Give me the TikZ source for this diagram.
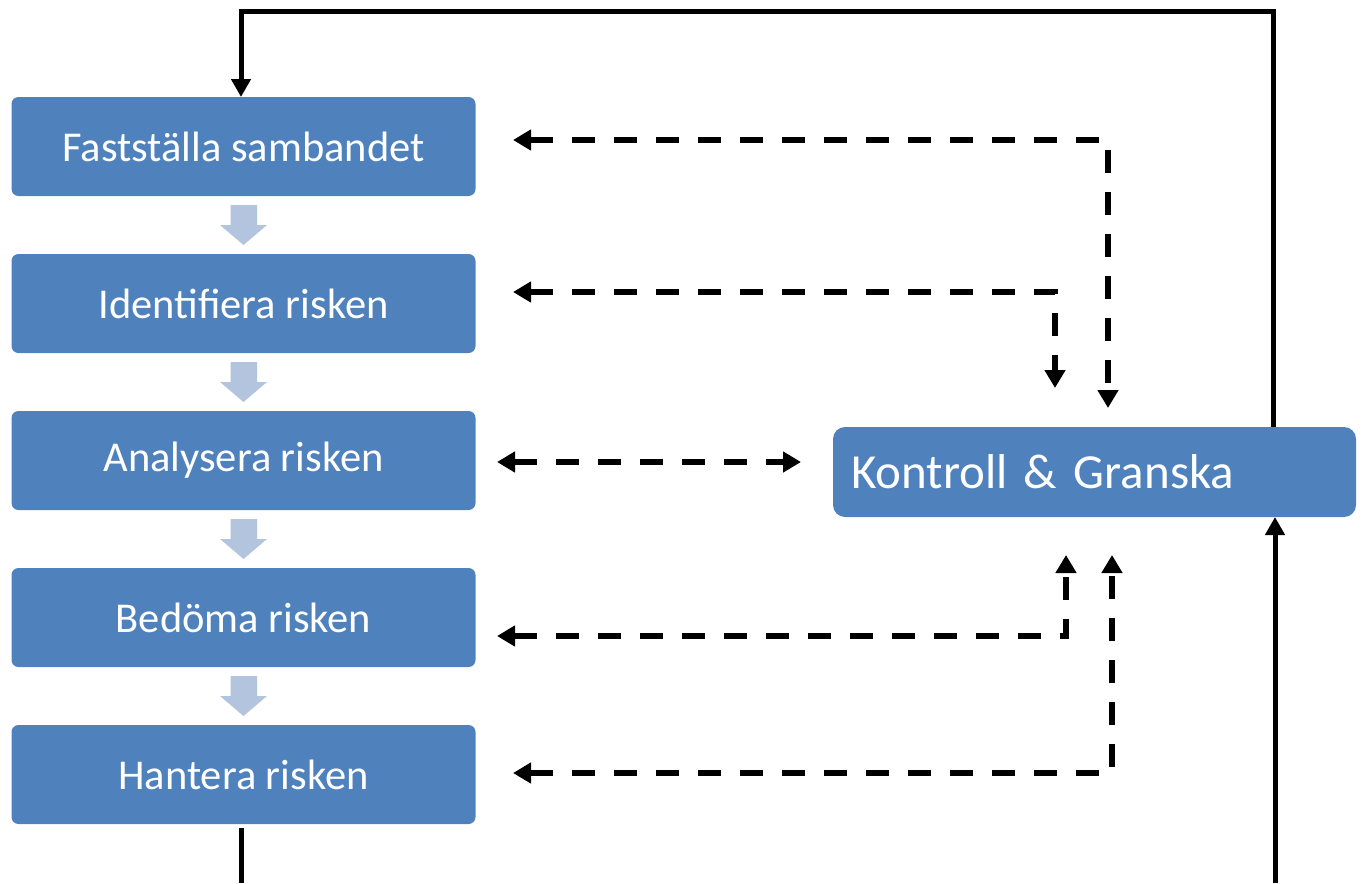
\documentclass[tikz,border=0pt]{standalone}
\usepackage{fontspec}
\setmainfont{Carlito}
\usetikzlibrary{arrows.meta}
\definecolor{boxblue}{HTML}{4F81BD}
\definecolor{arrowblue}{HTML}{B3C4DF}
\begin{document}
\begin{tikzpicture}[x=1pt,y=-1pt,
  stepbox/.style={draw=none,fill=boxblue,rounded corners=7pt,minimum width=464pt,minimum height=99pt,
     text=white,font=\fontsize{42.5}{50}\selectfont,inner sep=0pt},
  ctrlbox/.style={draw=none,fill=boxblue,rounded corners=12pt,minimum width=523pt,minimum height=90pt,
     text=white,font=\fontsize{49}{58}\selectfont,inner xsep=18pt,text width=487pt,align=left},
  solidarrow/.style={line width=5pt,-{Triangle[length=18pt,width=19pt]}},
  solidline/.style={line width=5pt},
  dasharrow/.style={line width=5.5pt,dash pattern=on 23pt off 19pt,{Triangle[length=18pt,width=20pt]}-{Triangle[length=18pt,width=20pt]}},
  blockarrow/.style={fill=arrowblue,draw=none}
]
\useasboundingbox (0,0) rectangle (1364,883);
\node[stepbox] (b1) at (243.5,146.5) {Fastställa sambandet};
\node[stepbox] (b2) at (243.5,303.5) {Identifiera risken};
\node[stepbox] (b3) at (243.5,460.5) {Analysera risken};
\node[stepbox] (b4) at (243.5,617.5) {Bedöma risken};
\node[stepbox] (b5) at (243.5,774.5) {Hantera risken};
\node[ctrlbox] (k) at (1094.5,472) {Kontroll \& Granska};

% block arrows between steps
\foreach \i in {0,1,2,3}{
  \fill[blockarrow] (230.5,205+157*\i) -- (257,205+157*\i) -- (257,225+157*\i) -- (267,225+157*\i)
     -- (243.5,245+157*\i) -- (220,225+157*\i) -- (230.5,225+157*\i) -- cycle;
}

% solid loop
\coordinate (ktop) at (1273,427);
\coordinate (tr) at (1273,12);
\coordinate (tl) at (241,12);
\coordinate (b1top) at (241,97);
\draw[solidarrow] (ktop) -- (tr) -- (tl) -- (b1top);
\coordinate (b5bot) at (241,828);
\coordinate (bl) at (241,883);
\draw[solidline] (b5bot) -- (bl);
\coordinate (br) at (1275,883);
\coordinate (kbot) at (1275,517);
\draw[solidarrow] (br) -- (kbot);

% dashed connectors
\coordinate (d1a) at (513,140);
\coordinate (d1c) at (1108,140);
\coordinate (d1b) at (1108,408);
\draw[dasharrow] (d1a) -- (d1c) -- (d1b);

\coordinate (d2a) at (513,292);
\coordinate (d2c) at (1055,292);
\coordinate (d2b) at (1055,388);
\draw[dasharrow] (d2a) -- (d2c) -- (d2b);

\coordinate (d3a) at (497,462);
\coordinate (d3b) at (801,462);
\draw[dasharrow] (d3a) -- (d3b);

\coordinate (d4a) at (497,636);
\coordinate (d4c) at (1066,636);
\coordinate (d4b) at (1066,555);
\draw[dasharrow] (d4a) -- (d4c) -- (d4b);

\coordinate (d5a) at (513,773);
\coordinate (d5c) at (1112,773);
\coordinate (d5b) at (1112,555);
\draw[dasharrow] (d5a) -- (d5c) -- (d5b);
\end{tikzpicture}
\end{document}
